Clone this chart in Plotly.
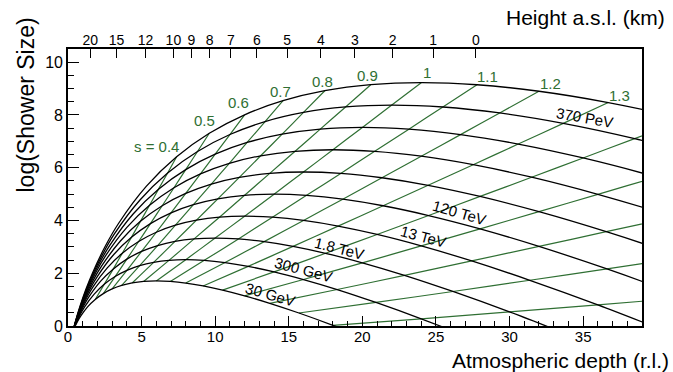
import plotly.graph_objects as go

# ---- data (Greisen-type longitudinal profiles) ----
# shower age grid at which each energy curve was read
AGES = [0.02, 0.03, 0.05, 0.075, 0.1, 0.15, 0.2, 0.3, 0.4, 0.5, 0.6, 0.7, 0.8, 0.9,
        1.0, 1.1, 1.2, 1.3, 1.4, 1.5, 1.6, 1.7, 1.8, 1.9]

depth_b06 = [0.08, 0.12, 0.20, 0.31, 0.41, 0.63, 0.86, 1.33, 1.85, 2.40, 3.00, 3.65, 4.36, 5.14, 6.00, 6.95, 8.00, 9.18, 10.50, 12.00, 13.71, 15.69, 18.00, 20.73]
size_b06 = [-0.657, -0.568, -0.412, -0.245, -0.097, 0.157, 0.373, 0.727, 1.006, 1.228, 1.404, 1.537, 1.632, 1.689, 1.708, 1.688, 1.627, 1.519, 1.361, 1.144, 0.859, 0.493, 0.027, -0.563]

depth_b08 = [0.11, 0.16, 0.27, 0.41, 0.55, 0.84, 1.14, 1.78, 2.46, 3.20, 4.00, 4.87, 5.82, 6.86, 8.00, 9.26, 10.67, 12.24, 14.00, 16.00, 18.29, 20.92, 24.00, 27.64]
size_b08 = [-0.640, -0.521, -0.313, -0.090, 0.107, 0.446, 0.734, 1.206, 1.578, 1.875, 2.108, 2.286, 2.412, 2.489, 2.514, 2.488, 2.406, 2.262, 2.051, 1.762, 1.383, 0.894, 0.273, -0.513]

depth_b10 = [0.13, 0.20, 0.34, 0.51, 0.69, 1.05, 1.43, 2.22, 3.08, 4.00, 5.00, 6.09, 7.27, 8.57, 10.00, 11.58, 13.33, 15.29, 17.50, 20.00, 22.86, 26.15, 30.00, 34.55]
size_b10 = [-0.608, -0.459, -0.200, 0.080, 0.325, 0.750, 1.110, 1.699, 2.164, 2.535, 2.827, 3.049, 3.207, 3.302, 3.334, 3.301, 3.198, 3.020, 2.756, 2.395, 1.920, 1.309, 0.533, -0.450]

depth_b12 = [0.16, 0.24, 0.41, 0.62, 0.83, 1.26, 1.71, 2.67, 3.69, 4.80, 6.00, 7.30, 8.73, 10.29, 12.00, 13.89, 16.00, 18.35, 21.00, 24.00, 27.43, 31.38, 36.00, 41.45]
size_b12 = [-0.568, -0.389, -0.078, 0.258, 0.553, 1.062, 1.494, 2.201, 2.759, 3.204, 3.554, 3.821, 4.011, 4.125, 4.163, 4.124, 4.000, 3.786, 3.469, 3.036, 2.466, 1.733, 0.802, -0.378]

depth_b14 = [0.19, 0.28, 0.47, 0.72, 0.97, 1.47, 2.00, 3.11, 4.31, 5.60, 7.00, 8.52, 10.18, 12.00, 14.00, 16.21, 18.67, 21.41, 24.50, 28.00, 32.00, 36.62, 42.00, 48.36]
size_b14 = [-0.521, -0.313, 0.051, 0.442, 0.786, 1.380, 1.884, 2.710, 3.360, 3.879, 4.288, 4.599, 4.820, 4.954, 4.998, 4.952, 4.808, 4.558, 4.188, 3.683, 3.018, 2.163, 1.077, -0.300]

depth_b16 = [0.21, 0.32, 0.54, 0.82, 1.10, 1.68, 2.29, 3.56, 4.92, 6.40, 8.00, 9.74, 11.64, 13.71, 16.00, 18.53, 21.33, 24.47, 28.00, 32.00, 36.57, 41.85, 48.00, 55.27]
size_b16 = [-0.470, -0.232, 0.183, 0.630, 1.024, 1.702, 2.278, 3.222, 3.966, 4.559, 5.026, 5.382, 5.634, 5.787, 5.838, 5.785, 5.620, 5.334, 4.912, 4.334, 3.575, 2.598, 1.356, -0.217]

depth_b18 = [0.24, 0.36, 0.61, 0.92, 1.24, 1.89, 2.57, 4.00, 5.54, 7.20, 9.00, 10.96, 13.09, 15.43, 18.00, 20.84, 24.00, 27.53, 31.50, 36.00, 41.14, 47.08, 54.00, 62.18]
size_b18 = [-0.416, -0.148, 0.320, 0.822, 1.265, 2.028, 2.677, 3.738, 4.575, 5.242, 5.767, 6.168, 6.452, 6.623, 6.681, 6.621, 6.436, 6.115, 5.640, 4.990, 4.135, 3.036, 1.639, -0.131]

depth_b20 = [0.27, 0.40, 0.68, 1.03, 1.38, 2.11, 2.86, 4.44, 6.15, 8.00, 10.00, 12.17, 14.55, 17.14, 20.00, 23.16, 26.67, 30.59, 35.00, 40.00, 45.71, 52.31, 60.00, 69.09]
size_b20 = [-0.358, -0.061, 0.458, 1.017, 1.509, 2.357, 3.077, 4.257, 5.187, 5.928, 6.512, 6.957, 7.272, 7.463, 7.527, 7.460, 7.255, 6.897, 6.370, 5.647, 4.698, 3.477, 1.924, -0.042]

depth_b22 = [0.30, 0.44, 0.75, 1.13, 1.52, 2.32, 3.14, 4.89, 6.77, 8.80, 11.00, 13.39, 16.00, 18.86, 22.00, 25.47, 29.33, 33.65, 38.50, 44.00, 50.29, 57.54, 66.00, 76.00]
size_b22 = [-0.299, 0.029, 0.600, 1.214, 1.755, 2.688, 3.480, 4.778, 5.801, 6.616, 7.258, 7.748, 8.095, 8.304, 8.375, 8.302, 8.076, 7.682, 7.102, 6.307, 5.263, 3.919, 2.212, 0.049]

depth_b24 = [0.32, 0.48, 0.81, 1.23, 1.66, 2.53, 3.43, 5.33, 7.38, 9.60, 12.00, 14.61, 17.45, 20.57, 24.00, 27.79, 32.00, 36.71, 42.00, 48.00, 54.86, 62.77, 72.00, 82.91]
size_b24 = [-0.238, 0.119, 0.742, 1.413, 2.003, 3.021, 3.885, 5.301, 6.416, 7.305, 8.006, 8.540, 8.919, 9.147, 9.224, 9.145, 8.898, 8.469, 7.836, 6.969, 5.829, 4.364, 2.501, 0.142]

# ages drawn as green lines, and which of them are labelled
AGE_LINES = [0.4, 0.5, 0.6, 0.7, 0.8, 0.9, 1.0, 1.1, 1.2, 1.3, 1.4, 1.5, 1.6, 1.7, 1.8]
AGE_LABELS = ["s = 0.4", "0.5", "0.6", "0.7", "0.8", "0.9", "1", "1.1", "1.2", "1.3"]

ENERGY_LABELS = ["30 GeV", "300 GeV", "1.8 TeV", "13 TeV", "120 TeV", "370 PeV"]

# top axis: height above sea level vs. atmospheric depth
HEIGHT_KM = ["20", "15", "12", "10", "9", "8", "7", "6", "5", "4", "3", "2", "1", "0"]
HEIGHT_DEPTH = [1.52, 3.30, 5.26, 7.16, 8.39, 9.63, 11.06, 12.83, 14.89, 17.18, 19.49, 22.05, 24.81, 27.71]

# ---- layout-only positions for text labels ----
age_label_pos = [(6.0, 6.79), (9.25, 7.78), (11.6, 8.47), (14.46, 8.88), (17.28, 9.28),
                 (20.37, 9.51), (24.36, 9.60), (28.53, 9.44), (32.75, 9.19), (37.44, 8.75)]
energy_label_pos = [(13.77, 1.21, 16), (15.98, 2.15, 15), (18.47, 2.94, 14),
                    (24.13, 3.38, 15), (26.58, 4.30, 16), (35.1, 7.90, 10)]

curves = [(depth_b06, size_b06), (depth_b08, size_b08), (depth_b10, size_b10),
          (depth_b12, size_b12), (depth_b14, size_b14), (depth_b16, size_b16),
          (depth_b18, size_b18), (depth_b20, size_b20), (depth_b22, size_b22),
          (depth_b24, size_b24)]

GREEN = "#2f6f33"
FONT = "Liberation Sans, Arial, Helvetica, sans-serif"

fig = go.Figure()

# green constant-age lines (built from the curve tables)
for s in AGE_LINES:
    j = AGES.index(s)
    fig.add_trace(go.Scatter(
        x=[d[j] for d, _ in curves], y=[v[j] for _, v in curves],
        mode="lines", line=dict(color=GREEN, width=1.2, shape="spline", smoothing=0.8),
        hoverinfo="skip", showlegend=False))

# black energy curves
for d, v in curves:
    fig.add_trace(go.Scatter(
        x=d, y=v, mode="lines",
        line=dict(color="black", width=1.3, shape="spline", smoothing=0.8),
        hoverinfo="skip", showlegend=False))

# dummy trace to activate top axis
fig.add_trace(go.Scatter(x=HEIGHT_DEPTH, y=[None] * len(HEIGHT_DEPTH), xaxis="x2",
                         mode="lines", hoverinfo="skip", showlegend=False))

ann = []
for txt, (x, y) in zip(AGE_LABELS, age_label_pos):
    ann.append(dict(x=x, y=y, text=txt, showarrow=False, xref="x", yref="y",
                    font=dict(family=FONT, size=15, color=GREEN),
                    xanchor="center", yanchor="middle"))
for txt, (x, y, ang) in zip(ENERGY_LABELS, energy_label_pos):
    ann.append(dict(x=x, y=y, text=txt, showarrow=False, xref="x", yref="y",
                    textangle=ang, font=dict(family=FONT, size=15, color="black"),
                    xanchor="center", yanchor="middle"))

W, H = 673, 372
L, R, T, B = 68, 31, 49, 46
pw, ph = W - L - R, H - T - B

def px2paper(px, py):
    return (px - L) / pw, (H - B - py) / ph

xt, yt = px2paper(670, 373)
ann.append(dict(x=xt, y=yt, xref="paper", yref="paper", text="Atmospheric depth (r.l.)",
                showarrow=False, xanchor="right", yanchor="bottom", borderpad=0,
                font=dict(family=FONT, size=21, color="black")))
xt, yt = px2paper(667, 18)
ann.append(dict(x=xt, y=yt, xref="paper", yref="paper", text="Height a.s.l. (km)",
                showarrow=False, xanchor="right", yanchor="middle",
                font=dict(family=FONT, size=21, color="black")))
xt, yt = px2paper(25.5, 105)
ann.append(dict(x=xt, y=yt, xref="paper", yref="paper", text="log(Shower Size)",
                showarrow=False, xanchor="center", yanchor="middle", textangle=-90,
                font=dict(family=FONT, size=23, color="black")))

fig.update_layout(
    width=W, height=H,
    margin=dict(l=L, r=R, t=T, b=B, pad=0),
    paper_bgcolor="white", plot_bgcolor="white",
    showlegend=False,
    annotations=ann,
    xaxis=dict(range=[0, 39], tickmode="linear", tick0=0, dtick=5,
               ticks="inside", ticklen=10, tickwidth=1.2, tickcolor="black",
               minor=dict(ticks="inside", ticklen=5, dtick=1, tickwidth=1.1, tickcolor="black"),
               showline=True, linecolor="black", linewidth=1.6, mirror=True,
               showgrid=False, zeroline=False, ticklabelstandoff=-4,
               tickfont=dict(family=FONT, size=15, color="black")),
    xaxis2=dict(range=[0, 39], overlaying="x", side="top", anchor="y",
                tickmode="array", tickvals=HEIGHT_DEPTH, ticktext=HEIGHT_KM,
                ticks="inside", ticklen=9, tickwidth=1.2, tickcolor="black",
                showline=False, showgrid=False, zeroline=False,
                tickfont=dict(family=FONT, size=14, color="black")),
    yaxis=dict(range=[0, 10.5], tickmode="linear", tick0=0, dtick=2,
               ticks="inside", ticklen=11, tickwidth=1.2, tickcolor="black",
               minor=dict(ticks="inside", ticklen=6, dtick=0.5, tickwidth=1.1, tickcolor="black"),
               showline=True, linecolor="black", linewidth=1.6, mirror=True,
               showgrid=False, zeroline=False,
               tickfont=dict(family=FONT, size=16, color="black")),
)

fig.write_html("out.html")
